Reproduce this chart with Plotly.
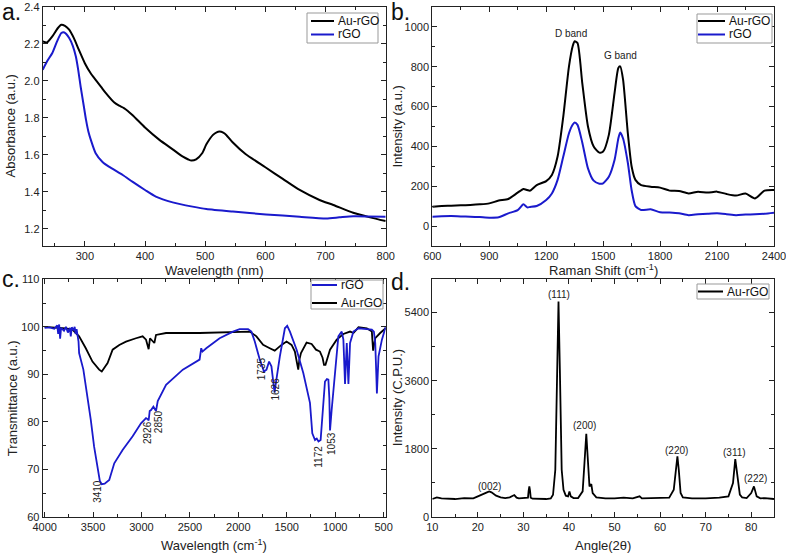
import plotly.graph_objects as go

W, H = 786, 553

# ---------------- data ----------------
# (a) UV-vis
uv_au_x = [230, 237, 246, 255, 261, 267, 274, 282, 290, 300, 310, 318, 327, 335, 349, 357, 365, 379, 400, 424, 446,
           463, 472, 477, 485, 495, 502, 513, 519, 524, 530, 535, 546, 567, 600, 629, 657, 690, 713, 746, 774, 800]
uv_au_y = [2.214, 2.208, 2.241, 2.285, 2.304, 2.298, 2.277, 2.230, 2.169, 2.096, 2.040, 2.006, 1.968, 1.934, 1.883, 1.866,
           1.853, 1.816, 1.748, 1.681, 1.630, 1.590, 1.575, 1.569, 1.576, 1.609, 1.657, 1.708, 1.722, 1.726, 1.720, 1.708,
           1.667, 1.605, 1.533, 1.470, 1.410, 1.356, 1.329, 1.287, 1.262, 1.242]
uv_rgo_x = [230, 238, 246, 254, 261, 266, 274, 280, 285, 289, 293, 298, 302, 306, 310, 318, 329, 340, 363, 379, 400, 418,
            446, 479, 502, 546, 601, 657, 701, 723, 746, 800]
uv_rgo_y = [2.060, 2.110, 2.151, 2.215, 2.259, 2.262, 2.232, 2.190, 2.133, 2.060, 1.970, 1.870, 1.789, 1.725, 1.681, 1.609,
            1.563, 1.536, 1.491, 1.455, 1.410, 1.374, 1.343, 1.320, 1.307, 1.293, 1.278, 1.265, 1.256, 1.262, 1.268, 1.265]

# (b) Raman
ram_x = [600, 650, 700, 750, 800, 850, 900, 950, 1000, 1050, 1080, 1100, 1115, 1150, 1200, 1230, 1260, 1290, 1320, 1340,
         1350, 1365, 1390, 1420, 1450, 1480, 1500, 1530, 1560, 1580, 1590, 1605, 1630, 1650, 1670, 1700, 1750, 1800,
         1850, 1900, 1950, 2000, 2050, 2100, 2150, 2200, 2250, 2300, 2350, 2400]
ram_au = [97, 101, 102, 104, 106, 109, 114, 128, 136, 168, 186, 181, 178, 206, 226, 257, 349, 550, 802, 905,
          928, 919, 718, 500, 399, 369, 374, 458, 668, 794, 802, 735, 466, 299, 232, 206, 198, 193,
          178, 176, 164, 173, 168, 173, 161, 153, 164, 139, 178, 181]
ram_rgo = [47, 49, 50, 48, 47, 45, 42, 44, 64, 80, 109, 94, 96, 101, 131, 164, 232, 349, 466, 510,
           520, 508, 420, 290, 228, 213, 215, 248, 332, 440, 470, 440, 318, 180, 100, 81, 84, 70,
           68, 64, 55, 59, 62, 64, 60, 55, 58, 59, 62, 67]

# (c) FTIR
ftir_rgo_x = [4000, 3950, 3900, 3870, 3860, 3850, 3840, 3830, 3800, 3780, 3760, 3740, 3730, 3720, 3700, 3690, 3680,
              3670, 3650, 3644, 3600, 3558, 3523, 3489, 3454, 3430, 3410, 3380, 3333, 3281, 3195, 3091, 3005, 2953,
              2936, 2926, 2915, 2901, 2877, 2860, 2850, 2832, 2746, 2573, 2400, 2390, 2383, 2370, 2331, 2193, 2055,
              1986, 1899, 1865, 1830, 1778, 1750, 1735, 1709, 1682, 1658, 1640, 1626, 1610, 1571, 1519, 1495, 1467,
              1398, 1329, 1295, 1260, 1236, 1208, 1190, 1172, 1150, 1129, 1105, 1085, 1070, 1060, 1053, 1036, 1001,
              967, 932, 915, 898, 880, 863, 846, 811, 759, 673, 621, 600, 586, 575, 569, 552, 517, 478]
ftir_rgo_y = [99.8, 99.9, 99.6, 100.3, 98.5, 100.5, 97.5, 99.8, 99.2, 100.0, 98.8, 99.8, 98.0, 99.9, 99.3, 100.0, 98.5,
              99.5, 96.9, 94.5, 91.0, 85.4, 80.4, 74.8, 70.0, 67.6, 66.9, 67.0, 67.8, 71.3, 74.1, 77.0, 79.7, 80.8,
              80.6, 80.3, 82.3, 82.5, 83.2, 82.6, 82.3, 84.4, 87.8, 91.0, 93.1, 94.5, 95.5, 94.8, 95.5, 97.6, 99.0,
              99.5, 99.5, 99.0, 96.9, 93.1, 91.3, 90.6, 91.0, 92.7, 91.7, 87.8, 86.2, 88.5, 93.8, 99.7, 100.2, 99.0,
              95.2, 90.3, 86.8, 84.0, 77.6, 76.2, 76.5, 75.9, 76.2, 81.8, 88.5, 89.0, 88.9, 85.0, 78.2, 82.5, 91.0,
              98.0, 99.0, 97.3, 88.0, 96.6, 88.0, 96.6, 99.0, 99.7, 99.5, 99.4, 99.0, 96.6, 90.0, 86.0, 93.8, 97.3, 100.0]
ftir_au_x = [4000, 3782, 3713, 3644, 3575, 3506, 3437, 3410, 3350, 3298, 3229, 3160, 3057, 2988, 2953, 2936, 2926, 2912,
             2884, 2867, 2850, 2746, 2400, 2055, 1882, 1813, 1744, 1675, 1624, 1554, 1502, 1450, 1416, 1395, 1381, 1370,
             1353, 1295, 1243, 1198, 1157, 1130, 1115, 1100, 1095, 1053, 984, 915, 846, 811, 759, 673, 621, 608, 600,
             586, 535, 478]
ftir_au_y = [100.0, 99.7, 99.4, 98.0, 95.5, 92.7, 91.0, 90.6, 92.4, 95.2, 96.2, 96.9, 97.6, 98.0, 97.3, 96.0, 95.3, 97.6,
             96.9, 96.6, 98.3, 98.7, 98.7, 98.8, 99.0, 98.0, 96.2, 95.5, 95.0, 96.2, 96.9, 96.2, 94.8, 92.5, 91.0, 93.0,
             94.5, 96.7, 96.4, 95.2, 94.8, 93.5, 92.0, 92.0, 92.4, 95.2, 97.3, 98.5, 99.0, 98.7, 99.9, 99.7, 99.0, 95.0,
             96.0, 97.6, 98.7, 99.7]
ftir_peaks = [3410, 2926, 2850, 1735, 1626, 1172, 1053]
ftir_peak_lbl_x = [3454, 2936, 2822, 1760, 1612, 1166, 1036]
ftir_peak_lbl_y = [65.4, 77.8, 80.1, 91.2, 87.0, 72.7, 75.5]

# (d) XRD
xrd_x = [10, 11, 12, 13, 15, 17, 19, 20, 21, 22, 22.5, 23, 24, 25, 26, 27, 28, 28.5, 29, 30, 31, 31.15, 31.3, 31.45,
         31.6, 32, 33, 34, 35, 36, 36.5, 37, 37.4, 37.7, 38, 38.4, 38.8, 39.3, 39.8, 40.1, 40.4, 41, 42, 43, 43.4, 43.8,
         44.1, 44.5, 44.9, 45.2, 46, 48, 50, 52, 54, 55.5, 56, 58, 60, 62, 63, 63.5, 63.8, 64.1, 64.5, 65, 67, 70, 73,
         75, 76, 76.5, 77, 77.5, 78, 79, 80, 80.6, 81.2, 82, 83, 85]
xrd_y = [475, 519, 492, 480, 475, 501, 492, 545, 589, 651, 677, 651, 563, 519, 501, 519, 580, 510, 492, 492, 510, 700,
         809, 700, 510, 484, 475, 475, 475, 492, 589, 1249, 3887, 5690, 3887, 1249, 721, 563, 545, 677, 545, 501, 501,
         677, 1425, 2198, 1600, 809, 871, 633, 519, 492, 492, 510, 492, 545, 492, 492, 492, 510, 721, 1337, 1600, 1249,
         633, 519, 492, 492, 510, 545, 897, 1530, 1073, 589, 519, 501, 633, 809, 545, 492, 500, 475]
xrd_lbl = ["(002)", "(111)", "(200)", "(220)", "(311)", "(222)"]
xrd_lbl_x = [22.6, 37.7, 43.3, 63.5, 76.4, 81.0]
xrd_lbl_y = [809, 5866, 2418, 1750, 1706, 1011]

BLACK = "#000000"
BLUE = "#1a1acc"
FONT = "Liberation Sans, Arial, sans-serif"


def px(x):
    return x / W


def py(y):
    return 1 - y / H


fig = go.Figure()
fig.add_trace(go.Scatter(x=uv_au_x, y=uv_au_y, mode="lines", line=dict(color=BLACK, width=2, shape="spline", smoothing=0.6),
                         xaxis="x", yaxis="y", name="Au-rGO"))
fig.add_trace(go.Scatter(x=uv_rgo_x, y=uv_rgo_y, mode="lines", line=dict(color=BLUE, width=2, shape="spline", smoothing=0.6),
                         xaxis="x", yaxis="y", name="rGO"))
fig.add_trace(go.Scatter(x=ram_x, y=ram_au, mode="lines", line=dict(color=BLACK, width=2, shape="spline", smoothing=0.6),
                         xaxis="x2", yaxis="y2", name="Au-rGO"))
fig.add_trace(go.Scatter(x=ram_x, y=ram_rgo, mode="lines", line=dict(color=BLUE, width=2, shape="spline", smoothing=0.6),
                         xaxis="x2", yaxis="y2", name="rGO"))
fig.add_trace(go.Scatter(x=ftir_au_x, y=ftir_au_y, mode="lines", line=dict(color=BLACK, width=1.8),
                         xaxis="x3", yaxis="y3", name="Au-rGO"))
fig.add_trace(go.Scatter(x=ftir_rgo_x, y=ftir_rgo_y, mode="lines", line=dict(color=BLUE, width=1.8),
                         xaxis="x3", yaxis="y3", name="rGO"))
fig.add_trace(go.Scatter(x=xrd_x, y=xrd_y, mode="lines", line=dict(color=BLACK, width=1.8),
                         xaxis="x4", yaxis="y4", name="Au-rGO"))

tickfont = dict(family=FONT, size=11, color="#222")
titlefont = dict(family=FONT, size=13, color="#222")


def ax(domain, rng, dtick, minor, anchor, fmt=None):
    d = dict(domain=domain, range=rng, dtick=dtick, tick0=0, ticks="inside", ticklen=5, tickwidth=1, tickcolor="#222",
             showline=True, linecolor="#222", linewidth=1, mirror="ticks", showgrid=False, zeroline=False,
             tickfont=tickfont, anchor=anchor, automargin=False, ticklabeloverflow="allow",
             minor=dict(ticks="inside", ticklen=3, dtick=minor, tickcolor="#222", showgrid=False))
    if fmt:
        d["tickformat"] = fmt
    return d


XA = (42.7, 385.7)
XB = (432.3, 774)
YT = (7, 246)
YB = (279.3, 517)
xa = [px(XA[0]), px(XA[1])]
xb = [px(XB[0]), px(XB[1])]
ytop = [py(YT[1]), py(YT[0])]
ybot = [py(YB[1]), py(YB[0])]

fig.update_layout(
    width=W, height=H, margin=dict(l=0, r=0, t=0, b=0, autoexpand=False), paper_bgcolor="white",
    plot_bgcolor="white", showlegend=False, font=dict(family=FONT, color="#222"),
    xaxis=ax(xa, [230, 800], 100, 50, "y"),
    yaxis=ax(ytop, [1.107, 2.4], 0.2, 0.1, "x", fmt=".1f"),
    xaxis2=ax(xb, [600, 2400], 300, 150, "y2"),
    yaxis2=ax(ytop, [-100, 1100], 200, 100, "x2"),
    xaxis3=ax(xa, [4020, 478], 500, 250, "y3"),
    yaxis3=ax(ybot, [60, 110], 10, 5, "x3"),
    xaxis4=ax(xb, [10, 85], 10, 5, "y4"),
    yaxis4=ax(ybot, [0, 6280], 1800, 900, "x4"),
)

ann = []
shapes = []

# axis titles
for txt, x, y, ang in [
    ("Wavelength (nm)", (XA[0] + XA[1]) / 2, 270, 0),
    ("Absorbance (a.u.)", 10, (YT[0] + YT[1]) / 2, -90),
    ("Raman Shift (cm<sup>-1</sup>)", (XB[0] + XB[1]) / 2, 270, 0),
    ("Intensity (a.u.)", 397, (YT[0] + YT[1]) / 2, -90),
    ("Wavelength (cm<sup>-1</sup>)", (XA[0] + XA[1]) / 2, 545, 0),
    ("Transmittance (a.u.)", 12, (YB[0] + YB[1]) / 2, -90),
    ("Angle(2θ)", (XB[0] + XB[1]) / 2, 545, 0),
    ("Intensity (C.P.U.)", 397, (YB[0] + YB[1]) / 2, -90),
]:
    ann.append(dict(text=txt, x=px(x), y=py(y), xref="paper", yref="paper", xanchor="center", yanchor="middle",
                    textangle=ang, showarrow=False, font=titlefont))

# panel letters
for txt, x, y in [("a.", 0, 12), ("b.", 389, 12), ("c.", 0, 279), ("d.", 389, 282)]:
    ann.append(dict(text=txt, x=px(x), y=py(y), xref="paper", yref="paper", xanchor="left", yanchor="middle",
                    showarrow=False, font=dict(family=FONT, size=23, color="#111")))

# Raman band labels
ann.append(dict(text="D band", x=1333, y=966, xref="x2", yref="y2", showarrow=False,
                font=dict(family=FONT, size=10, color="#222")))
ann.append(dict(text="G band", x=1591, y=856, xref="x2", yref="y2", showarrow=False,
                font=dict(family=FONT, size=10, color="#222")))

# FTIR peak labels
for p, lx, ly in zip(ftir_peaks, ftir_peak_lbl_x, ftir_peak_lbl_y):
    ann.append(dict(text=str(p), x=lx, y=ly, xref="x3", yref="y3", showarrow=False, textangle=-90,
                    font=dict(family=FONT, size=10, color="#222")))

# XRD labels
for t, lx, ly in zip(xrd_lbl, xrd_lbl_x, xrd_lbl_y):
    ann.append(dict(text=t, x=lx, y=ly, xref="x4", yref="y4", showarrow=False,
                    font=dict(family=FONT, size=10, color="#222")))


def legend(box, entries):
    x0, y0, x1, y1 = box
    shapes.append(dict(type="rect", xref="paper", yref="paper", x0=px(x0), x1=px(x1), y0=py(y1), y1=py(y0),
                       line=dict(color="#999", width=1), fillcolor="white", layer="above"))
    for name, color, ly, lx0, lx1 in entries:
        shapes.append(dict(type="line", xref="paper", yref="paper", x0=px(lx0), x1=px(lx1), y0=py(ly), y1=py(ly),
                           line=dict(color=color, width=2), layer="above"))
        ann.append(dict(text=name, x=px(lx1 + 2), y=py(ly), xref="paper", yref="paper", xanchor="left",
                        yanchor="middle", showarrow=False, font=dict(family=FONT, size=12, color="#111")))


legend((307, 13, 378, 43), [("Au-rGO", BLACK, 21, 311, 334), ("rGO", BLUE, 34.5, 311, 334)])
legend((697, 14, 772, 43), [("Au-rGO", BLACK, 21, 698, 725), ("rGO", BLUE, 34.5, 698, 725)])
legend((311, 280, 383, 309), [("rGO", BLUE, 285, 312, 337), ("Au-rGO", BLACK, 303, 312, 337)])
legend((697, 284, 769, 299), [("Au-rGO", BLACK, 291.5, 698, 723)])

fig.update_layout(annotations=ann, shapes=shapes)
fig.write_html("out.html", config={"displayModeBar": False, "staticPlot": True},
               post_script="document.body.style.margin='0';document.body.style.padding='0';"
                           "document.body.style.overflow='hidden';")
